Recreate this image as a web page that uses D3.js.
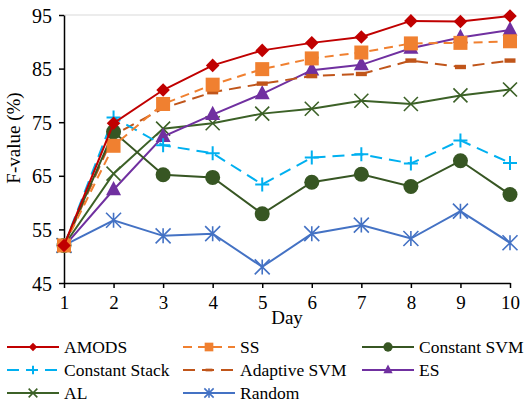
<!DOCTYPE html>
<html>
<head>
<meta charset="utf-8">
<script src="https://cdn.jsdelivr.net/npm/d3@7"></script>
<style>
  body { margin: 0; background: #fff; }
</style>
</head>
<body>
<div id="chart"></div>
<script>
const days = [1, 2, 3, 4, 5, 6, 7, 8, 9, 10];
const yTicks = [45, 55, 65, 75, 85, 95];

const amods         = [52.0, 74.8, 81.0, 85.6, 88.4, 89.8, 90.9, 93.9, 93.8, 94.8];
const ss            = [52.0, 70.6, 78.4, 82.0, 84.9, 86.9, 88.0, 89.7, 89.8, 90.1];
const constantSvm   = [52.0, 73.2, 65.2, 64.7, 57.9, 63.8, 65.3, 63.0, 67.8, 61.5];
const constantStack = [52.0, 75.9, 70.7, 69.2, 63.4, 68.4, 69.0, 67.3, 71.6, 67.4];
const adaptiveSvm   = [51.8, 72.6, 77.6, 80.6, 82.2, 83.6, 84.0, 86.5, 85.3, 86.5];
const es            = [51.8, 62.4, 72.3, 76.4, 80.3, 84.7, 85.7, 88.8, 90.8, 92.2];
const al            = [52.0, 65.4, 73.8, 74.8, 76.6, 77.5, 79.0, 78.4, 80.0, 81.1];
const random        = [52.0, 56.7, 53.8, 54.2, 48.0, 54.2, 55.8, 53.3, 58.4, 52.5];

const series = [
    { name: 'AMODS', values: amods, color: '#C00000', dash: null, marker: 'diamond' },
    { name: 'SS', values: ss, color: '#F08030', dash: '9,6', marker: 'square' },
    { name: 'Constant SVM', values: constantSvm, color: '#375623', dash: null, marker: 'circle' },
    { name: 'Constant Stack', values: constantStack, color: '#00B0F0', dash: '12,7', marker: 'plus' },
    { name: 'Adaptive SVM', values: adaptiveSvm, color: '#C0551A', dash: '12,7', marker: 'dash' },
    { name: 'ES', values: es, color: '#7030A0', dash: null, marker: 'triangle' },
    { name: 'AL', values: al, color: '#3C6127', dash: null, marker: 'cross' },
    { name: 'Random', values: random, color: '#4472C4', dash: null, marker: 'asterisk' }
];

const FONT = '"Liberation Serif", "Times New Roman", Times, serif';
const width = 527, height = 404;
const margin = { left: 64, right: 17, top: 15, bottom: 121 };

const svg = d3.select('#chart').append('svg')
    .attr('width', width)
    .attr('height', height)
    .attr('font-family', FONT);

const x = d3.scaleLinear().domain([1, 10]).range([margin.left, width - margin.right]);
const y = d3.scaleLinear().domain([45, 95]).range([height - margin.bottom, margin.top]);

// top gridline only
svg.append('line')
    .attr('x1', x(1)).attr('x2', x(10))
    .attr('y1', y(95)).attr('y2', y(95))
    .attr('stroke', '#d9d9d9').attr('stroke-width', 1);

const xAxis = svg.append('g')
    .attr('transform', `translate(0,${y(45)})`)
    .call(d3.axisBottom(x).tickValues(days).tickSize(5).tickSizeOuter(0).tickFormat(d3.format('d')));
xAxis.attr('font-family', FONT);
xAxis.selectAll('text').attr('font-size', 19).attr('fill', '#000').attr('dy', '0.95em');

const yAxis = svg.append('g')
    .attr('transform', `translate(${x(1)},0)`)
    .call(d3.axisLeft(y).tickValues(yTicks).tickSize(5).tickSizeOuter(0));
yAxis.attr('font-family', FONT);
yAxis.selectAll('text').attr('font-size', 20).attr('fill', '#000').attr('dy', '0.35em').attr('x', -12);

svg.selectAll('.domain, .tick line').attr('stroke', '#000').attr('stroke-width', 1.5);

svg.append('text')
    .attr('x', (x(1) + x(10)) / 2)
    .attr('y', 324)
    .attr('text-anchor', 'middle')
    .attr('font-size', 19)
    .text('Day');

svg.append('text')
    .attr('transform', `translate(20,138) rotate(-90)`)
    .attr('text-anchor', 'middle')
    .attr('font-size', 19)
    .text('F-value (%)');

// marker shapes
const drawMarker = (g, type, color, s) => {
    if (type === 'diamond') {
        g.append('path').attr('d', d3.symbol(d3.symbolDiamond2, s * s * 0.6)()).attr('fill', color);
    } else if (type === 'square') {
        g.append('rect').attr('x', -s / 2).attr('y', -s / 2).attr('width', s).attr('height', s).attr('fill', color);
    } else if (type === 'circle') {
        g.append('circle').attr('r', s / 2).attr('fill', color);
    } else if (type === 'triangle') {
        const h = s * 0.95;
        g.append('path').attr('d', `M0,${-h * 0.62}L${s / 2},${h * 0.38}L${-s / 2},${h * 0.38}Z`).attr('fill', color);
    } else if (type === 'plus') {
        g.append('path').attr('d', `M${-s / 2},0H${s / 2}M0,${-s / 2}V${s / 2}`).attr('stroke', color).attr('stroke-width', 2);
    } else if (type === 'cross') {
        const r = s / 2;
        g.append('path').attr('d', `M${-r},${-r}L${r},${r}M${-r},${r}L${r},${-r}`).attr('stroke', color).attr('stroke-width', 1.6);
    } else if (type === 'asterisk') {
        const r = s / 2;
        g.append('path').attr('d', `M${-r},${-r}L${r},${r}M${-r},${r}L${r},${-r}M0,${-r}V${r}`).attr('stroke', color).attr('stroke-width', 1.6);
    } else if (type === 'dash') {
        g.append('rect').attr('x', -s / 2).attr('y', -s / 5).attr('width', s).attr('height', s / 2.5).attr('fill', color);
    }
};

const markerSize = { diamond: 14, square: 14, circle: 15, triangle: 15, plus: 14, cross: 14, asterisk: 15, dash: 11 };

const line = d3.line().x((d, i) => x(days[i])).y(d => y(d));

// draw in reverse so AMODS ends on top
series.slice().reverse().forEach(s => {
    svg.append('path')
        .datum(s.values)
        .attr('fill', 'none')
        .attr('stroke', s.color)
        .attr('stroke-width', 2)
        .attr('stroke-dasharray', s.dash)
        .attr('d', line);
    s.values.forEach((v, i) => {
        const g = svg.append('g').attr('transform', `translate(${x(days[i])},${y(v)})`);
        drawMarker(g, s.marker, s.color, markerSize[s.marker]);
    });
});

// legend, 3 columns
const legendCols = [7, 183, 362];
const legendRows = [347, 370, 393];
series.forEach((s, i) => {
    const lx = legendCols[i % 3];
    const ly = legendRows[Math.floor(i / 3)];
    const g = svg.append('g');
    g.append('line')
        .attr('x1', lx).attr('x2', lx + 52)
        .attr('y1', ly).attr('y2', ly)
        .attr('stroke', s.color)
        .attr('stroke-width', 2)
        .attr('stroke-dasharray', s.dash);
    const m = g.append('g').attr('transform', `translate(${lx + 26},${ly})`);
    drawMarker(m, s.marker, s.color, markerSize[s.marker] * 0.62);
    g.append('text')
        .attr('x', lx + 57)
        .attr('y', ly)
        .attr('dy', '0.35em')
        .attr('font-size', 17.5)
        .text(s.name);
});
</script>
</body>
</html>
